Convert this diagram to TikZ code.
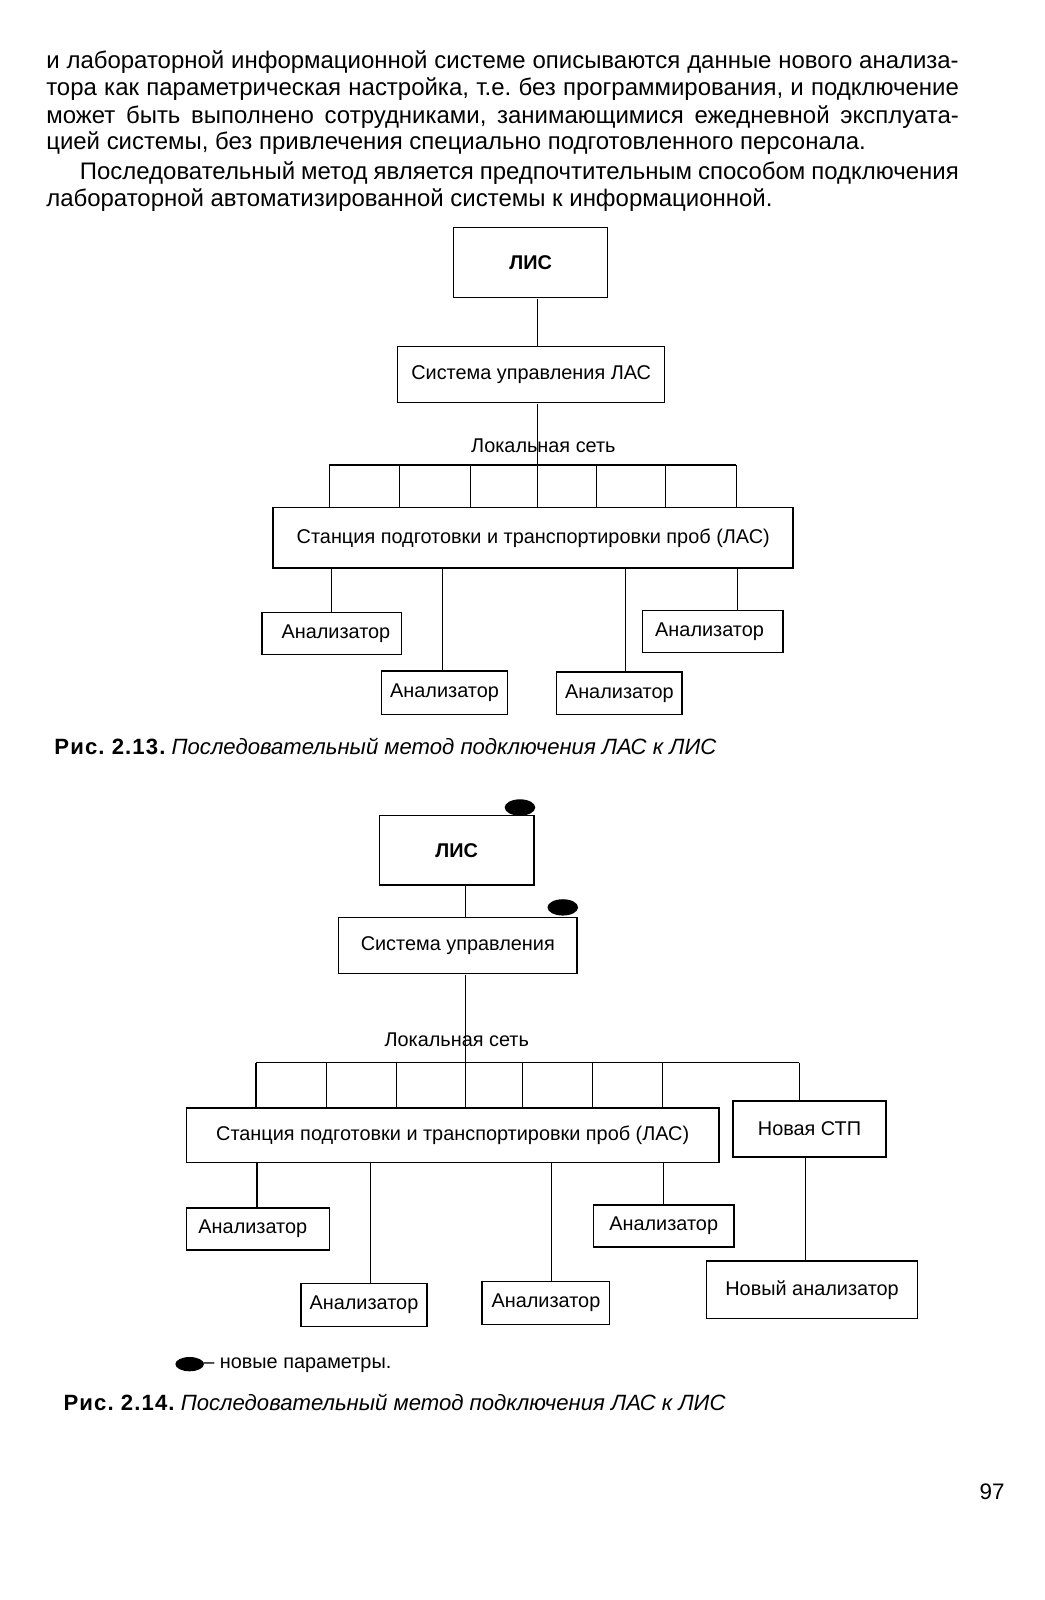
\documentclass[tikz,border=0pt]{standalone}
\usepackage{fontspec}
\setmainfont{Liberation Sans}
\usetikzlibrary{shapes.geometric}
\frenchspacing
\newcommand{\figlabel}[1]{{\bfseries\addfontfeature{LetterSpace=5}#1}}
\tikzset{
  box/.style={draw, line width=0.75pt, inner sep=0pt, align=center, font=\fontsize{9.75}{11}\selectfont},
  wire/.style={line width=0.6pt},
  para/.style={anchor=base west, inner sep=0pt, font=\fontsize{11.75}{13}\selectfont},
  capt/.style={anchor=base west, inner sep=0pt, font=\fontsize{10.85}{13}\selectfont},
  lbl/.style={inner sep=0pt, font=\fontsize{9.75}{11}\selectfont},
  blob/.style={ellipse, fill=black, draw=none, inner sep=0pt, minimum width=15pt, minimum height=8pt}
}
\begin{document}
\begin{tikzpicture}[x=0.5pt,y=-0.5pt,scale=1.01953,every node/.append style={transform shape}]
\fill[white] (0,0) rectangle (1024,1569.35);
\useasboundingbox (0,0) rectangle (1024,1569.35);

% ---------- text ----------
\node[para] (t1) at (45,67) {\makebox[447.5pt][s]{и лабораторной информационной системе описываются данные нового анализа-}};
\node[para] (t2) at (45,94) {\makebox[447.5pt][s]{тора как параметрическая настройка, т.е. без программирования, и подключение}};
\node[para] (t3) at (45,121) {\makebox[447.5pt][s]{может быть выполнено сотрудниками, занимающимися ежедневной эксплуата-}};
\node[para] (t4) at (45,147) {цией системы, без привлечения специально подготовленного персонала.};
\node[para] (t5) at (78,176) {\makebox[431pt][s]{Последовательный метод является предпочтительным способом подключения}};
\node[para] (t6) at (45,203) {лабораторной автоматизированной системы к информационной.};

% ---------- figure 2.13 ----------
\node[box, minimum width=75.5pt, minimum height=34.5pt, font=\bfseries\fontsize{9.75}{11}\selectfont] (lis1) at (520.5,257.5) {ЛИС};
\node[box, minimum width=131pt, minimum height=27.5pt] (sys1) at (521,367.5) {Система управления ЛАС};
\node[box, minimum width=255pt, minimum height=29.5pt] (st1) at (523,527.5) {Станция подготовки и транспортировки проб (ЛАС)};
\node[box, minimum width=68.5pt, minimum height=20.5pt] (a11) at (325.5,621.5) {\hspace*{4pt}Анализатор};
\node[box, minimum width=62pt, minimum height=21.5pt] (a12) at (436,679.5) {Анализатор};
\node[box, minimum width=61.5pt, minimum height=21pt] (a13) at (607.5,680) {Анализатор};
\node[box, minimum width=69pt, minimum height=20.5pt] (a14) at (699,619.5) {Анализатор\hspace*{3pt}};
\node[lbl] (net1) at (533,437) {Локальная сеть};

\coordinate (c1) at (527,0);
\draw[wire] (lis1.south -| c1) -- (sys1.north -| c1);
\draw[wire] (sys1.south -| c1) -- (st1.north -| c1);
\foreach \n/\x in {p1/323,p2/392,p3/461,p5/585,p6/653,p7/722}{
  \coordinate (\n) at (\x,456);
}
\draw[wire] (p1) -- (p7);
\foreach \n in {p1,p2,p3,p5,p6,p7}{
  \draw[wire] (\n) -- (st1.north -| \n);
}
\coordinate (q1) at (325,0);
\coordinate (q2) at (434,0);
\coordinate (q3) at (613,0);
\coordinate (q4) at (723,0);
\draw[wire] (st1.south -| q1) -- (a11.north -| q1);
\draw[wire] (st1.south -| q2) -- (a12.north -| q2);
\draw[wire] (st1.south -| q3) -- (a13.north -| q3);
\draw[wire] (st1.south -| q4) -- (a14.north -| q4);

\node[capt] (cap1) at (53,740) {\figlabel{Рис. 2.13.} \textit{Последовательный метод подключения ЛАС к ЛИС}};

% ---------- figure 2.14 ----------
\node[box, minimum width=76pt, minimum height=34pt, font=\bfseries\fontsize{9.75}{11}\selectfont] (lis2) at (448,834) {ЛИС};
\node[box, minimum width=117pt, minimum height=27.5pt] (sys2) at (449,927.5) {Система управления};
\node[box, minimum width=261pt, minimum height=26.5pt] (st2) at (444,1113.5) {Станция подготовки и транспортировки проб (ЛАС)};
\node[box, minimum width=75pt, minimum height=27.5pt] (stp) at (794,1107.5) {Новая СТП};
\node[box, minimum width=70pt, minimum height=20.5pt] (a21) at (253,1205.5) {Анализатор\hspace*{5pt}};
\node[box, minimum width=62pt, minimum height=21pt] (a22) at (357,1280) {Анализатор};
\node[box, minimum width=62.5pt, minimum height=21pt] (a23) at (535.5,1278) {Анализатор};
\node[box, minimum width=69pt, minimum height=20.5pt] (a24) at (651,1202.5) {Анализатор};
\node[box, minimum width=103.5pt, minimum height=28pt] (na) at (796.5,1265) {Новый анализатор};
\node[lbl] (net2) at (448,1020) {Локальная сеть};

\node[blob] (e1) at (510,792) {};
\node[blob] (e2) at (552,890) {};

\coordinate (c2) at (456.5,0);
\draw[wire] (lis2.south -| c2) -- (sys2.north -| c2);
\draw[wire] (sys2.south -| c2) -- (st2.north -| c2);
\foreach \n/\x in {r1/251,r2/320,r3/389,r5/512,r6/581,r7/650,r8/784}{
  \coordinate (\n) at (\x,1042);
}
\draw[wire] (r1) -- (r8);
\foreach \n in {r1,r2,r3,r5,r6,r7}{
  \draw[wire] (\n) -- (st2.north -| \n);
}
\draw[wire] (r8) -- (stp.north -| r8);
\coordinate (s1) at (252,0);
\coordinate (s2) at (363,0);
\coordinate (s3) at (541,0);
\coordinate (s4) at (651,0);
\coordinate (s5) at (790,0);
\draw[wire] (st2.south -| s1) -- (a21.north -| s1);
\draw[wire] (st2.south -| s2) -- (a22.north -| s2);
\draw[wire] (st2.south -| s3) -- (a23.north -| s3);
\draw[wire] (st2.south -| s4) -- (a24.north -| s4);
\draw[wire] (stp.south -| s5) -- (na.north -| s5);

\node[blob, minimum width=14pt, minimum height=7pt] (e3) at (186,1338) {};
\node[lbl, anchor=west] (leg) at (199,1339) {– новые параметры.};

\node[capt] (cap2) at (62,1383) {\figlabel{Рис. 2.14.} \textit{Последовательный метод подключения ЛАС к ЛИС}};

\node[inner sep=0pt, font=\fontsize{11}{13}\selectfont] (pg) at (973,1463) {97};
\end{tikzpicture}
\end{document}
